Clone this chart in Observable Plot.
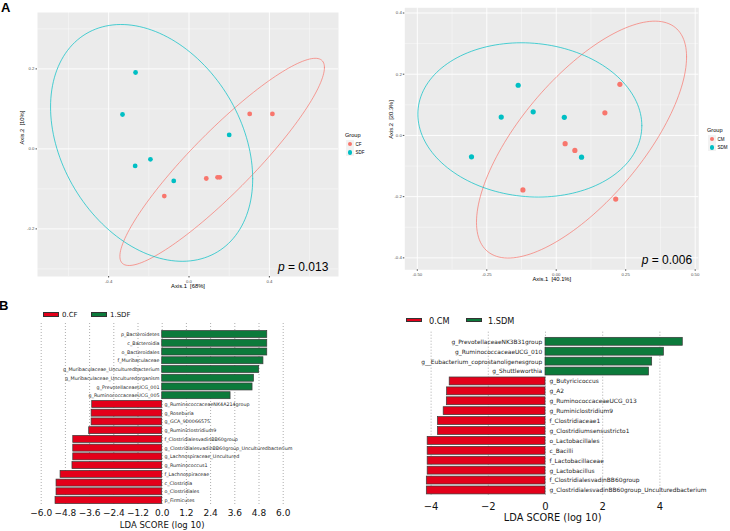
<!DOCTYPE html>
<html><head><meta charset="utf-8">
<script src="https://cdn.jsdelivr.net/npm/d3@7"></script>
<script src="https://cdn.jsdelivr.net/npm/@observablehq/plot@0.6"></script>
<style>
body{margin:0;background:#fff;font-family:"DejaVu Sans",sans-serif}
#fig{position:relative;width:730px;height:531px;overflow:hidden;background:#fff}
#fig div.a{position:absolute;white-space:nowrap;line-height:1}
</style></head><body><div id="fig"></div>
<script>
// ---------- Panel A (PCoA) data ----------
const a1Groups = ["CF", "SDF"];
const a1CFx = [0.302, 0.415, 0.086, 0.142, 0.153, -0.123];
const a1CFy = [0.0875, 0.0875, -0.074, -0.071, -0.071, -0.118];
const a1SDx = [-0.266, -0.331, -0.268, -0.192, -0.076, 0.200];
const a1SDy = [0.191, 0.086, -0.0425, -0.026, -0.080, 0.035];
const a1EllCF = {cx: 0.165, cy: -0.0325, sx: 0.509, sy: 0.259, r: 0.911};
const a1EllSD = {cx: -0.186, cy: 0.015, sx: 0.503, sy: 0.296, r: -0.303};

const a2Groups = ["CM", "SDM"];
const a2CMx = [0.229, 0.175, 0.032, 0.067, -0.120, 0.214];
const a2CMy = [0.167, 0.074, -0.027, -0.049, -0.178, -0.208];
const a2SDx = [-0.137, -0.198, -0.083, 0.029, -0.305, 0.091];
const a2SDy = [0.164, 0.060, 0.077, 0.059, -0.070, -0.071];
const a2EllCM = {cx: 0.091, cy: -0.0136, sx: 0.378, sy: 0.387, r: 0.698};
const a2EllSD = {cx: -0.095, cy: 0.0507, sx: 0.403, sy: 0.252, r: -0.075};

// ---------- Panel B (LEfSe) data ----------
const b1Names = ["p_Bacteroidetes","c_Bacteroidia","o_Bacteroidales","f_Muribaculaceae",
 "g_Muribaculaceae_Unculturedbacterium","g_Muribaculaceae_Unculturedorganism","g_PrevotellaceaeUCG_001",
 "g_RuminococcaceaeUCG_005","g_RuminococcaceaeNK4A214group","g_Roseburia","g_GCA_900066575",
 "g_Ruminiclostridium9","f_ClostridialesvadinBB60group","g_ClostridialesvadinBB60group_Unculturedbacterium",
 "g_Lachnospiraceae_Uncultured","g_Ruminococcus1","f_Lachnospiraceae","c_Clostridia","o_Clostridiales","p_Firmicutes"];
const b1Vals = [5.21, 5.21, 5.21, 5.02, 4.81, 4.55, 4.48, 3.39, -3.47, -3.50, -3.50, -3.62,
 -4.41, -4.41, -4.41, -4.45, -5.04, -5.24, -5.24, -5.29];
const b1Ticks = [-6.0, -4.8, -3.6, -2.4, -1.2, 0.0, 1.2, 2.4, 3.6, 4.8, 6.0];
const b1Legend = ["0.CF", "1.SDF"];

const b2Names = ["g_PrevotellaceaeNK3B31group","g_RuminococcaceaeUCG_010","g__Eubacterium_coprostanoligenesgroup",
 "g_Shuttleworthia","g_Butyricicoccus","g_A2","g_RuminococcaceaeUCG_013","g_Ruminiclostridium9",
 "f_Clostridiaceae1","g_Clostridiumsensustricto1","o_Lactobacillales","c_Bacilli","f_Lactobacillaceae",
 "g_Lactobacillus","f_ClostridialesvadinBB60group","g_ClostridialesvadinBB60group_Unculturedbacterium"];
const b2Vals = [4.80, 4.14, 3.73, 3.62, -3.35, -3.44, -3.45, -3.56, -3.76, -3.76, -4.12, -4.12, -4.12, -4.12, -4.15, -4.15];
const b2Ticks = [-4, -2, 0, 2, 4];
const b2Legend = ["0.CM", "1.SDM"];

const RED = "#F8766D", TEAL = "#00BFC4";
const BRED = "#e3001a", BGREEN = "#0c7a3b";

const fig = document.getElementById("fig");
function place(node, left, top) {
  const d = document.createElement("div");
  d.className = "a"; d.style.left = left + "px"; d.style.top = top + "px";
  d.appendChild(node); fig.appendChild(d); return d;
}
function txt(html, left, top, css) {
  const d = document.createElement("div");
  d.className = "a"; d.style.left = left + "px"; d.style.top = top + "px";
  d.style.cssText += css || ""; d.innerHTML = html; fig.appendChild(d); return d;
}
function ellipse(e) {
  const out = [], n = 160, k = Math.sqrt(1 - e.r * e.r);
  for (let i = 0; i <= n; i++) {
    const t = 2 * Math.PI * i / n;
    out.push({x: e.cx + e.sx * Math.cos(t), y: e.cy + e.sy * (e.r * Math.cos(t) + k * Math.sin(t))});
  }
  return out;
}
const pts = (xs, ys) => xs.map((x, i) => ({x, y: ys[i]}));

function pcoa(o) {
  return Plot.plot({
    width: o.width, height: o.height,
    marginLeft: o.ml, marginRight: o.mr, marginTop: o.mt, marginBottom: o.mb,
    style: {fontFamily: "'Liberation Sans', Arial, sans-serif", background: "transparent", overflow: "visible"},
    x: {domain: o.xDom}, y: {domain: o.yDom},
    marks: [
      Plot.frame({fill: "#EBEBEB"}),
      Plot.gridX(o.xMinor, {stroke: "#fff", strokeOpacity: 1, strokeWidth: 0.4}),
      Plot.gridY(o.yMinor, {stroke: "#fff", strokeOpacity: 1, strokeWidth: 0.4}),
      Plot.gridX(o.xTicks, {stroke: "#fff", strokeOpacity: 1, strokeWidth: 0.9}),
      Plot.gridY(o.yTicks, {stroke: "#fff", strokeOpacity: 1, strokeWidth: 0.9}),
      Plot.axisX(o.xTicks, {tickFormat: o.xFmt, tickSize: 1.5, tickPadding: 1.5, fontSize: 4.3, color: "#4d4d4d", label: null}),
      Plot.axisY(o.yTicks, {tickFormat: o.yFmt, tickSize: 1.5, tickPadding: 1.5, fontSize: 4.3, color: "#4d4d4d", label: null}),
      Plot.line(ellipse(o.ell1), {x: "x", y: "y", stroke: RED, strokeWidth: 0.7}),
      Plot.line(ellipse(o.ell2), {x: "x", y: "y", stroke: TEAL, strokeWidth: 0.7}),
      Plot.dot(o.p1, {x: "x", y: "y", fill: RED, r: o.r, stroke: null}),
      Plot.dot(o.p2, {x: "x", y: "y", fill: TEAL, r: o.r, stroke: null}),
      Plot.text([o.xTitle], {text: d => d, frameAnchor: "bottom", dy: o.xTitleDy, fontSize: 5.8, fill: "#000"}),
      Plot.text([o.yTitle], {text: d => d, frameAnchor: "left", rotate: -90, dx: o.yTitleDx, fontSize: 5.8, fill: "#000"})
    ]
  });
}

place(pcoa({
  width: 365, height: 295, ml: 37, mr: 27, mt: 12, mb: 19,
  xDom: [-0.754, 0.744], yDom: [-0.319, 0.341],
  xTicks: [-0.4, 0, 0.4], xMinor: [-0.6, -0.2, 0.2, 0.6],
  yTicks: [-0.2, 0, 0.2], yMinor: [-0.3, -0.1, 0.1, 0.3],
  xFmt: d => d.toFixed(1), yFmt: d => d.toFixed(1),
  ell1: a1EllCF, ell2: a1EllSD, p1: pts(a1CFx, a1CFy), p2: pts(a1SDx, a1SDy), r: 2.4,
  xTitle: "Axis.1  [68%]", yTitle: "Axis.2  [10%]", xTitleDy: 11, yTitleDx: -15
}), 0, 0);

place(pcoa({
  width: 365, height: 295, ml: 39.3, mr: 31.7, mt: 7.3, mb: 25.7,
  xDom: [-0.545, 0.513], yDom: [-0.439, 0.417],
  xTicks: [-0.5, -0.25, 0, 0.25, 0.5], xMinor: [-0.375, -0.125, 0.125, 0.375],
  yTicks: [-0.4, -0.2, 0, 0.2, 0.4], yMinor: [-0.3, -0.1, 0.1, 0.3],
  xFmt: d => d.toFixed(2), yFmt: d => d.toFixed(1),
  ell1: a2EllCM, ell2: a2EllSD, p1: pts(a2CMx, a2CMy), p2: pts(a2SDx, a2SDy), r: 2.6,
  xTitle: "Axis.1  [40.1%]", yTitle: "Axis.2  [20.3%]", xTitleDy: 10.7, yTitleDx: -14
}), 365, 0);

// PCoA legends
function groupLegend(groups, left, top) {
  txt("Group", left, top - 3, "font:5.6px 'Liberation Sans',Arial,sans-serif;color:#000");
  [RED, TEAL].forEach((c, i) => {
    const cy = top + 9 + i * 8.2;
    txt("", left + 1, cy - 3.8, `width:7.6px;height:7.6px;background:#F2F2F2`);
    txt("", left + 2.6, cy - 2.4, `width:4.8px;height:4.8px;border-radius:50%;background:${c}`);
    txt(groups[i], left + 10.5, cy - 2.2, "font:4.5px 'Liberation Sans',Arial,sans-serif;color:#000");
  });
}
groupLegend(a1Groups, 345, 135);
groupLegend(a2Groups, 707, 130);

txt("<i>p</i> = 0.013", 278, 260.5, "font:12px 'Liberation Sans',Arial,sans-serif;color:#000;line-height:12px");
txt("<i>p</i> = 0.006", 641.7, 253.8, "font:12px 'Liberation Sans',Arial,sans-serif;color:#000;line-height:12px");

txt("A", 1, 0, "font:bold 13px 'Liberation Sans',Arial,sans-serif;color:#000");
txt("B", -1, 298, "font:bold 13px 'Liberation Sans',Arial,sans-serif;color:#000");

// ---------- LEfSe bar charts ----------
function lefse(o) {
  const data = o.names.map((n, i) => ({n, v: o.vals[i]}));
  const pos = data.filter(d => d.v > 0), neg = data.filter(d => d.v < 0);
  return Plot.plot({
    width: o.width, height: o.height,
    marginLeft: o.ml, marginRight: o.mr, marginTop: o.mt, marginBottom: o.mb,
    style: {fontFamily: "'DejaVu Sans', sans-serif", background: "transparent", overflow: "visible"},
    x: {domain: o.dom},
    y: {domain: o.names, axis: null, paddingInner: 0.2, paddingOuter: o.pOuter, align: o.align, round: false},
    marks: [
      Plot.gridX(o.ticks, {stroke: "#8a8a8a", strokeOpacity: 1, strokeWidth: 0.7, strokeDasharray: "1,2"}),
      Plot.barX(pos, {x: "v", y: "n", fill: BGREEN, stroke: "#3a3a3a", strokeWidth: 0.7}),
      Plot.barX(neg, {x: "v", y: "n", fill: BRED, stroke: "#3a3a3a", strokeWidth: 0.7}),
      Plot.text(pos, {x: d => 0, y: "n", text: "n", textAnchor: "end", dx: o.dxPos, fontSize: o.labFont, fill: "#222"}),
      Plot.text(neg, {x: d => 0, y: "n", text: "n", textAnchor: "start", dx: o.dxNeg, fontSize: o.labFont, fill: "#222"}),
      Plot.axisX(o.ticks, {tickFormat: o.fmt, tickSize: 0, tickPadding: o.tickPad, fontSize: o.tickFont, color: "#111", label: null}),
      Plot.text(["LDA SCORE (log 10)"], {text: d => d, frameAnchor: "bottom", dy: o.titleDy, fontSize: o.titleFont, fill: "#111"})
    ]
  });
}

place(lefse({
  names: b1Names, vals: b1Vals, ticks: b1Ticks, fmt: d3.format(".1f"),
  width: 365, height: 213, ml: 40.7, mr: 82.3, mt: 5, mb: 26.5, dom: [-6, 6],
  pOuter: 0.485, align: 0.89, dxPos: -2.7, dxNeg: 2.3, labFont: 4.8,
  tickFont: 9, tickPad: 4.2, titleDy: 22.5, titleFont: 8.5
}), 0, 318);

place(lefse({
  names: b2Names, vals: b2Vals, ticks: b2Ticks, fmt: d3.format("d"),
  width: 330, height: 205, ml: 16.3, mr: 42, mt: 5.7, mb: 34.3, dom: [-4.5, 5],
  pOuter: 0.424, align: 0.67, dxPos: -3.3, dxNeg: 4, labFont: 5.9,
  tickFont: 10, tickPad: 6, titleDy: 23.3, titleFont: 9.8
}), 400, 326);

// LEfSe legends
function barLegend(labels, rects, textLefts, top, h, font, cy) {
  [BRED, BGREEN].forEach((c, i) => {
    txt("", rects[i], top, `width:${16.3}px;height:${h}px;background:${c};border:0.6px solid #333;box-sizing:border-box`);
    txt(labels[i], textLefts[i], cy - font / 2, `font:${font}px 'DejaVu Sans',sans-serif;color:#111`);
  });
}
barLegend(b1Legend, [42.7, 90.7], [62, 110], 312.3, 4.7, 7, 314.7);
barLegend(b2Legend, [406, 465.7], [429, 488], 317.7, 4.8, 8.2, 320);
</script></body></html>
